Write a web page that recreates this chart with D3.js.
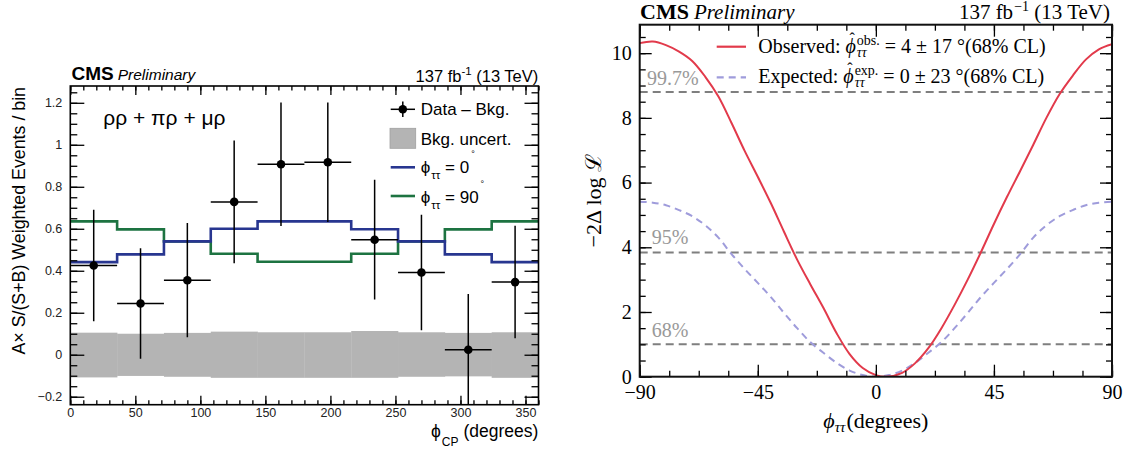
<!DOCTYPE html>
<meta charset="utf-8">
<script src="https://d3js.org/d3.v7.min.js"></script>
<style>
  body { margin: 0; background: #fff; }
  text { white-space: pre; }
</style>
<body>
<div id="my_dataviz"></div>
<script>
// ---------- left panel data (phi_CP bins) ----------
var binEdges = [0, 36, 72, 108, 144, 180, 216, 252, 288, 324, 360];
var dataVal = [0.425, 0.244, 0.355, 0.728, 0.907, 0.917, 0.548, 0.392, 0.024, 0.346];
var dataErr = [0.266, 0.263, 0.272, 0.292, 0.294, 0.285, 0.285, 0.275, 0.265, 0.268];
var sm0 = [0.441, 0.478, 0.540, 0.600, 0.635, 0.635, 0.598, 0.540, 0.478, 0.441];
var ps90 = [0.635, 0.597, 0.540, 0.481, 0.443, 0.443, 0.481, 0.540, 0.597, 0.635];
var bkgUp = [0.105, 0.100, 0.104, 0.110, 0.107, 0.107, 0.113, 0.107, 0.104, 0.107];
var bkgDown = [0.108, 0.101, 0.105, 0.110, 0.110, 0.110, 0.110, 0.105, 0.103, 0.110];
var xTicksL = [0, 50, 100, 150, 200, 250, 300, 350];
var yTicksL = [-0.2, 0, 0.2, 0.4, 0.6, 0.8, 1, 1.2];

// ---------- right panel data (likelihood scan) ----------
var obsPhi = [-90, -85, -80, -75, -70, -65, -60, -55, -50, -45, -40, -35, -30, -25, -20, -15, -10, -5, 0, 4,
  10, 15, 20, 25, 30, 35, 40, 45, 50, 55, 60, 65, 70, 75, 80, 85, 90];
var obsNll = [10.31, 10.36, 10.25, 10.05, 9.76, 9.27, 8.66, 7.84, 6.98, 6.18, 5.36, 4.48, 3.62, 2.86, 2.13, 1.35, 0.70, 0.27, 0.05, 0,
  0.12, 0.42, 0.88, 1.50, 2.22, 3.00, 3.84, 4.72, 5.56, 6.36, 7.17, 8.00, 8.73, 9.30, 9.80, 10.12, 10.28];
var expPhi = [-90, -85, -80, -75, -70, -65, -60, -55, -50, -45, -40, -35, -30, -25, -20, -15, -10, -5, 0,
  5, 10, 15, 20, 25, 30, 35, 40, 45, 50, 55, 60, 65, 70, 75, 80, 85, 90];
var expNll = [5.41, 5.38, 5.30, 5.15, 4.96, 4.68, 4.30, 3.79, 3.33, 2.90, 2.46, 1.97, 1.50, 1.07, 0.74, 0.43, 0.19, 0.05, 0,
  0.05, 0.19, 0.43, 0.74, 1.07, 1.50, 1.97, 2.46, 2.90, 3.33, 3.79, 4.30, 4.68, 4.96, 5.15, 5.30, 5.38, 5.41];
var clLevels = [1, 3.84, 8.8];
var clLabels = ["68%", "95%", "99.7%"];
var xTicksR = [-90, -45, 0, 45, 90];
var yTicksR = [0, 2, 4, 6, 8, 10];

var sans = "'Liberation Sans', Arial, sans-serif";
var serif = "'Liberation Serif', 'Times New Roman', serif";

var svg = d3.select("#my_dataviz").append("svg")
  .attr("width", 1132).attr("height", 454);

// lay out a run of text pieces (sub/superscripts) one after another
function runText(g, x, y, pieces, anchor, family) {
  var grp = g.append("g").attr("font-family", family);
  var cx = 0, lastX = 0, lastW = 0;
  pieces.forEach(function (p) {
    var px = p.stack ? lastX : cx + (p.dx || 0);
    var t = grp.append("text").attr("x", px).attr("y", p.dy || 0)
      .attr("font-size", p.size).attr("fill", p.fill || "#000").text(p.t);
    if (p.style) t.attr("font-style", p.style);
    if (p.weight) t.attr("font-weight", p.weight);
    var w = t.node().getComputedTextLength();
    if (p.hat) {
      grp.append("text").attr("x", px + w / 2 + 1.5).attr("y", (p.dy || 0) - p.size * 0.48)
        .attr("text-anchor", "middle").attr("font-size", p.size * 0.8).text("ˆ");
    }
    if (p.stack) { cx = lastX + Math.max(lastW, w); }
    else { lastX = px; lastW = w; cx = px + w; }
  });
  var shift = anchor === "end" ? -cx : (anchor === "middle" ? -cx / 2 : 0);
  grp.attr("transform", "translate(" + (x + shift) + "," + y + ")");
  return grp;
}

function styleAxis(g, family, size, color) {
  g.attr("font-family", family).attr("font-size", size);
  g.select(".domain").remove();
  g.selectAll("line").attr("stroke", "#000").attr("stroke-width", 1.3);
  g.selectAll("text").attr("fill", color);
}

// ================= LEFT PANEL =================
var xL = d3.scaleLinear().domain([0, 360]).range([70.3, 538.5]);
var yL = d3.scaleLinear().domain([-0.238, 1.28]).range([404.7, 86]);
var left = svg.append("g");

left.append("clipPath").attr("id", "clipL").append("rect")
  .attr("x", xL(0)).attr("y", yL(1.28)).attr("width", xL(360) - xL(0)).attr("height", yL(-0.238) - yL(1.28));
var plotL = left.append("g").attr("clip-path", "url(#clipL)");

// background uncertainty band
plotL.selectAll(".band").data(bkgUp).enter().append("rect")
  .attr("x", function (d, i) { return xL(binEdges[i]); })
  .attr("width", function (d, i) { return xL(binEdges[i + 1]) - xL(binEdges[i]) + 0.3; })
  .attr("y", function (d) { return yL(d); })
  .attr("height", function (d, i) { return yL(-bkgDown[i]) - yL(d); })
  .attr("fill", "#b4b4b4");

// histograms
var step = d3.line().x(function (d) { return xL(d[0]); }).y(function (d) { return yL(d[1]); })
  .curve(d3.curveStepAfter);
function histPts(vals) {
  return binEdges.map(function (e, i) { return [e, vals[Math.min(i, vals.length - 1)]]; });
}
plotL.append("path").attr("d", step(histPts(ps90))).attr("fill", "none")
  .attr("stroke", "#1d7341").attr("stroke-width", 2.6);
plotL.append("path").attr("d", step(histPts(sm0))).attr("fill", "none")
  .attr("stroke", "#283690").attr("stroke-width", 2.6);

// data points
var pts = plotL.selectAll(".pt").data(dataVal).enter().append("g");
pts.append("line")
  .attr("x1", function (d, i) { return xL(binEdges[i]); })
  .attr("x2", function (d, i) { return xL(binEdges[i + 1]); })
  .attr("y1", function (d) { return yL(d); }).attr("y2", function (d) { return yL(d); })
  .attr("stroke", "#000").attr("stroke-width", 1.5);
pts.append("line")
  .attr("x1", function (d, i) { return xL((binEdges[i] + binEdges[i + 1]) / 2); })
  .attr("x2", function (d, i) { return xL((binEdges[i] + binEdges[i + 1]) / 2); })
  .attr("y1", function (d, i) { return yL(d + dataErr[i]); })
  .attr("y2", function (d, i) { return yL(d - dataErr[i]); })
  .attr("stroke", "#000").attr("stroke-width", 1.5);
pts.append("circle")
  .attr("cx", function (d, i) { return xL((binEdges[i] + binEdges[i + 1]) / 2); })
  .attr("cy", function (d) { return yL(d); }).attr("r", 4.3).attr("fill", "#000");

// axes (ticks inside, mirrored)
var minorXL = d3.range(0, 361, 10), minorYL = d3.range(-0.2, 1.26, 0.05);
left.append("g").attr("transform", "translate(0," + yL(-0.238) + ")")
  .call(d3.axisBottom(xL).tickValues(xTicksL).tickSize(-9).tickPadding(3).tickFormat(d3.format("d")))
  .call(function (g) { styleAxis(g, sans, 12.5, "#222"); });
left.append("g").attr("transform", "translate(0," + yL(-0.238) + ")")
  .call(d3.axisBottom(xL).tickValues(minorXL).tickSize(-4.5).tickFormat(""))
  .call(function (g) { styleAxis(g, sans, 12, "#222"); });
left.append("g").attr("transform", "translate(0," + yL(1.28) + ")")
  .call(d3.axisTop(xL).tickValues(xTicksL).tickSize(-9).tickFormat(""))
  .call(function (g) { styleAxis(g, sans, 12, "#222"); });
left.append("g").attr("transform", "translate(0," + yL(1.28) + ")")
  .call(d3.axisTop(xL).tickValues(minorXL).tickSize(-4.5).tickFormat(""))
  .call(function (g) { styleAxis(g, sans, 12, "#222"); });
left.append("g").attr("transform", "translate(" + xL(0) + ",0)")
  .call(d3.axisLeft(yL).tickValues(yTicksL).tickSize(-14).tickPadding(8).tickFormat(d3.format("~g")))
  .call(function (g) { styleAxis(g, sans, 12.5, "#222"); });
left.append("g").attr("transform", "translate(" + xL(0) + ",0)")
  .call(d3.axisLeft(yL).tickValues(minorYL).tickSize(-7).tickFormat(""))
  .call(function (g) { styleAxis(g, sans, 12, "#222"); });
left.append("g").attr("transform", "translate(" + xL(360) + ",0)")
  .call(d3.axisRight(yL).tickValues(yTicksL).tickSize(-14).tickFormat(""))
  .call(function (g) { styleAxis(g, sans, 12, "#222"); });
left.append("g").attr("transform", "translate(" + xL(360) + ",0)")
  .call(d3.axisRight(yL).tickValues(minorYL).tickSize(-7).tickFormat(""))
  .call(function (g) { styleAxis(g, sans, 12, "#222"); });

left.append("rect").attr("x", xL(0)).attr("y", yL(1.28))
  .attr("width", xL(360) - xL(0)).attr("height", yL(-0.238) - yL(1.28))
  .attr("fill", "none").attr("stroke", "#000").attr("stroke-width", 1.6);

// labels
runText(left, 71.5, 80, [
  { t: "CMS", size: 19, weight: "bold" },
  { t: "Preliminary", size: 15.5, style: "italic", dx: 4 }
], "start", sans);
runText(left, 538.3, 81.7, [
  { t: "137 fb", size: 16.5 },
  { t: "-1", size: 11.5, dy: -7 },
  { t: " (13 TeV)", size: 16.5 }
], "end", sans);
left.append("text").attr("x", 103.3).attr("y", 125).attr("font-family", sans)
  .attr("font-size", 21).text("ρρ + πρ + μρ");
left.append("text").attr("transform", "translate(25,87) rotate(-90)")
  .attr("text-anchor", "end").attr("font-family", sans).attr("font-size", 17.8)
  .text("A× S/(S+B) Weighted Events / bin");
runText(left, 538.3, 436.7, [
  { t: "ϕ", size: 17.5 },
  { t: "CP", size: 12, dy: 9, dx: 1 },
  { t: " (degrees)", size: 17.5 }
], "end", sans);

// legend
var lg = left.append("g");
lg.append("line").attr("x1", 390.7).attr("x2", 415).attr("y1", 109.3).attr("y2", 109.3)
  .attr("stroke", "#000").attr("stroke-width", 1.5);
lg.append("line").attr("x1", 402.8).attr("x2", 402.8).attr("y1", 101.5).attr("y2", 117)
  .attr("stroke", "#000").attr("stroke-width", 1.5);
lg.append("circle").attr("cx", 402.8).attr("cy", 109.3).attr("r", 4.3).attr("fill", "#000");
lg.append("rect").attr("x", 390).attr("y", 128.3).attr("width", 25.7).attr("height", 20)
  .attr("fill", "#b4b4b4").attr("stroke", "#a0a0a0").attr("stroke-width", 0.8);
lg.append("line").attr("x1", 390.7).attr("x2", 415).attr("y1", 167.3).attr("y2", 167.3)
  .attr("stroke", "#283690").attr("stroke-width", 2.6);
lg.append("line").attr("x1", 390.7).attr("x2", 415).attr("y1", 196).attr("y2", 196)
  .attr("stroke", "#1d7341").attr("stroke-width", 2.6);
runText(lg, 420.7, 115, [{ t: "Data – Bkg.", size: 17 }], "start", sans);
runText(lg, 420.7, 145, [{ t: "Bkg. uncert.", size: 17 }], "start", sans);
runText(lg, 420.7, 173.3, [
  { t: "ϕ", size: 17 }, { t: "ττ", size: 11.5, dy: 6, dx: 1 },
  { t: " = 0", size: 17 }, { t: "°", size: 9, dy: -16, dx: 2 }
], "start", sans);
runText(lg, 420.7, 202.7, [
  { t: "ϕ", size: 17 }, { t: "ττ", size: 11.5, dy: 6, dx: 1 },
  { t: " = 90", size: 17 }, { t: "°", size: 9, dy: -16, dx: 2 }
], "start", sans);

// ================= RIGHT PANEL =================
var xR = d3.scaleLinear().domain([-90, 90]).range([639.7, 1112]);
var yR = d3.scaleLinear().domain([0, 10.88]).range([376.7, 24.7]);
var right = svg.append("g");

right.append("clipPath").attr("id", "clipR").append("rect")
  .attr("x", xR(-90)).attr("y", yR(10.88)).attr("width", xR(90) - xR(-90)).attr("height", yR(0) - yR(10.88));
var plotR = right.append("g").attr("clip-path", "url(#clipR)");

plotR.selectAll(".cl").data(clLevels).enter().append("line")
  .attr("x1", xR(-90)).attr("x2", xR(90))
  .attr("y1", function (d) { return yR(d); }).attr("y2", function (d) { return yR(d); })
  .attr("stroke", "#7f7f7f").attr("stroke-width", 2).attr("stroke-dasharray", "8,5");

var curve = d3.line().x(function (d) { return xR(d[0]); }).y(function (d) { return yR(d[1]); })
  .curve(d3.curveCatmullRom.alpha(0.5));
plotR.append("path").attr("d", curve(expPhi.map(function (p, i) { return [p, expNll[i]]; })))
  .attr("fill", "none").attr("stroke", "#9f9cdb").attr("stroke-width", 2).attr("stroke-dasharray", "7,5");
plotR.append("path").attr("d", curve(obsPhi.map(function (p, i) { return [p, obsNll[i]]; })))
  .attr("fill", "none").attr("stroke", "#e23a4b").attr("stroke-width", 2);

var clX = [651.7, 651.7, 647];
var clDy = [-7.5, -8.5, -7];
right.selectAll(".cllab").data(clLabels).enter().append("text")
  .attr("x", function (d, i) { return clX[i]; })
  .attr("y", function (d, i) { return yR(clLevels[i]) + clDy[i]; })
  .attr("font-family", serif).attr("font-size", 20).attr("fill", "#999")
  .text(function (d) { return d; });

var minorXR = d3.range(-90, 90.1, 11.25), minorYR = d3.range(0, 10.9, 0.5);
right.append("g").attr("transform", "translate(0," + yR(0) + ")")
  .call(d3.axisBottom(xR).tickValues(xTicksR).tickSize(-12).tickPadding(8.5).tickFormat(d3.format("d")))
  .call(function (g) { styleAxis(g, serif, 20, "#000"); });
right.append("g").attr("transform", "translate(0," + yR(0) + ")")
  .call(d3.axisBottom(xR).tickValues(minorXR).tickSize(-6).tickFormat(""))
  .call(function (g) { styleAxis(g, serif, 20, "#000"); });
right.append("g").attr("transform", "translate(0," + yR(10.88) + ")")
  .call(d3.axisTop(xR).tickValues(xTicksR).tickSize(-12).tickFormat(""))
  .call(function (g) { styleAxis(g, serif, 20, "#000"); });
right.append("g").attr("transform", "translate(0," + yR(10.88) + ")")
  .call(d3.axisTop(xR).tickValues(minorXR).tickSize(-6).tickFormat(""))
  .call(function (g) { styleAxis(g, serif, 20, "#000"); });
right.append("g").attr("transform", "translate(" + xR(-90) + ",0)")
  .call(d3.axisLeft(yR).tickValues(yTicksR).tickSize(-12).tickPadding(8).tickFormat(d3.format("d")))
  .call(function (g) { styleAxis(g, serif, 20, "#000"); });
right.append("g").attr("transform", "translate(" + xR(-90) + ",0)")
  .call(d3.axisLeft(yR).tickValues(minorYR).tickSize(-6).tickFormat(""))
  .call(function (g) { styleAxis(g, serif, 20, "#000"); });
right.append("g").attr("transform", "translate(" + xR(90) + ",0)")
  .call(d3.axisRight(yR).tickValues(yTicksR).tickSize(-12).tickFormat(""))
  .call(function (g) { styleAxis(g, serif, 20, "#000"); });
right.append("g").attr("transform", "translate(" + xR(90) + ",0)")
  .call(d3.axisRight(yR).tickValues(minorYR).tickSize(-6).tickFormat(""))
  .call(function (g) { styleAxis(g, serif, 20, "#000"); });

right.append("rect").attr("x", xR(-90)).attr("y", yR(10.88))
  .attr("width", xR(90) - xR(-90)).attr("height", yR(0) - yR(10.88))
  .attr("fill", "none").attr("stroke", "#111").attr("stroke-width", 2);

// legend
right.append("line").attr("x1", 716.7).attr("x2", 746).attr("y1", 46.7).attr("y2", 46.7)
  .attr("stroke", "#e23a4b").attr("stroke-width", 2.2);
right.append("line").attr("x1", 716.7).attr("x2", 746).attr("y1", 77.3).attr("y2", 77.3)
  .attr("stroke", "#9f9cdb").attr("stroke-width", 2.2).attr("stroke-dasharray", "7,5");
runText(right, 758.3, 53.3, [
  { t: "Observed: ", size: 20 },
  { t: "ϕ", size: 20, style: "italic", hat: true },
  { t: "obs.", size: 14, dy: -8, dx: 1 },
  { t: "ττ", size: 14, dy: 4, style: "italic", stack: true },
  { t: " = 4 ± 17 °(68% CL)", size: 20 }
], "start", serif);
runText(right, 758.3, 83.3, [
  { t: "Expected: ", size: 20 },
  { t: "ϕ", size: 20, style: "italic", hat: true },
  { t: "exp.", size: 14, dy: -8, dx: 1 },
  { t: "ττ", size: 14, dy: 4, style: "italic", stack: true },
  { t: " = 0 ± 23 °(68% CL)", size: 20 }
], "start", serif);

// titles
runText(right, 640, 19, [
  { t: "CMS", size: 22, weight: "bold" },
  { t: "Preliminary", size: 21, style: "italic", dx: 5 }
], "start", serif);
runText(right, 1110, 18.5, [
  { t: "137 fb", size: 21 },
  { t: "−1", size: 14, dy: -7.5, dx: 1 },
  { t: " (13 TeV)", size: 21 }
], "end", serif);
runText(right, 875.8, 428, [
  { t: "ϕ", size: 22, style: "italic" },
  { t: "ττ", size: 15, dy: 4, style: "italic" },
  { t: "(degrees)", size: 22, dx: 1 }
], "middle", serif);
right.append("text").attr("transform", "translate(601,200.7) rotate(-90)")
  .attr("text-anchor", "middle").attr("font-family", serif).attr("font-size", 22)
  .text("−2Δ log ℒ");
</script>
</body>
